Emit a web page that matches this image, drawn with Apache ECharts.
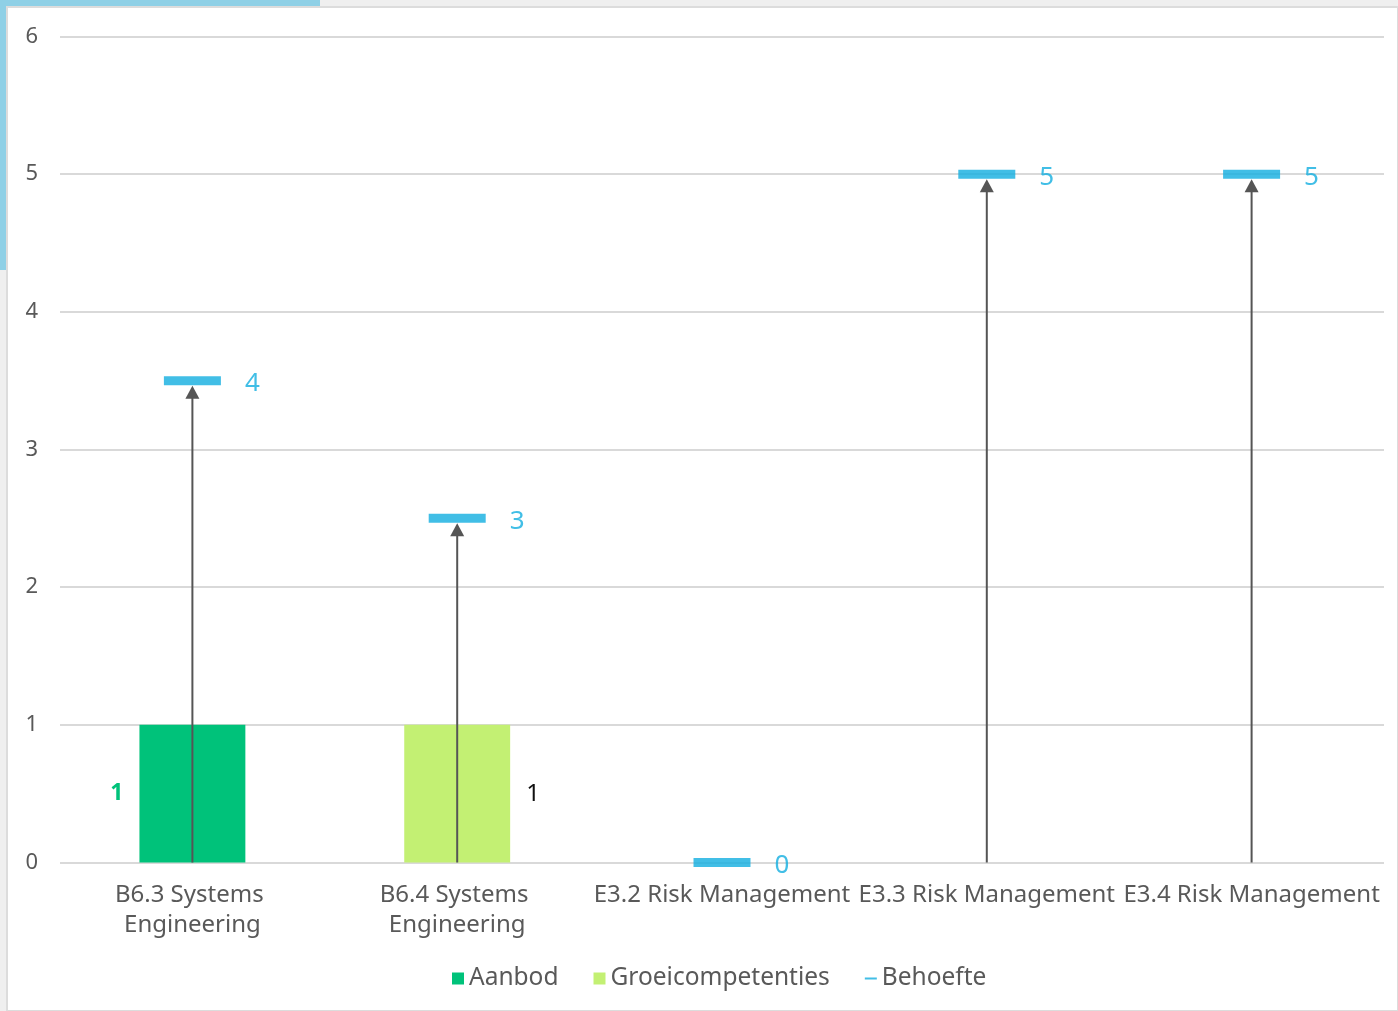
<!DOCTYPE html>
<html><head><meta charset="utf-8">
<script src="https://cdn.jsdelivr.net/npm/echarts@6/dist/echarts.min.js"></script>
<style>html,body{margin:0;padding:0;background:#efefef}#c{width:1398px;height:1011px}</style>
</head><body><div id="c"></div>
<script>
const categories = ['B6.3 Systems Engineering','B6.4 Systems Engineering','E3.2 Risk Management','E3.3 Risk Management','E3.4 Risk Management'];
const aanbod = [1, null, null, null, null];
const groei = [null, 1, null, null, null];
const behoefte = [3.5, 2.5, 0, 5, 5];
const yTicks = [0,1,2,3,4,5,6];

const FONT = '"Noto Sans", "Open Sans", sans-serif';
const chart = echarts.init(document.getElementById('c'));
chart.setOption({
  backgroundColor: 'transparent',
  animation: false,
  graphic: [
    {type:'rect', shape:{x:0,y:0,width:320,height:6}, style:{fill:'#8fd0e6'}, z:-10},
    {type:'rect', shape:{x:0,y:0,width:6,height:270}, style:{fill:'#8fd0e6'}, z:-10},
    {type:'rect', shape:{x:7,y:7,width:1391,height:1004}, style:{fill:'#ffffff', stroke:'#dcdcdc', lineWidth:2}, z:-9}
  ],
  grid: {left:60, right:14, top:36.5, bottom:148.5, containLabel:false},
  legend: {
    bottom: 15, left: 447, itemGap: 35, itemWidth: 12, itemHeight: 12,
    textStyle: {color:'#595959', fontSize:24.5, fontFamily:FONT},
    data: [
      {name:'Aanbod', icon:'rect'},
      {name:'Groeicompetenties', icon:'rect'},
      {name:'Behoefte', icon:'path://M0,5 L12,5 L12,7 L0,7 Z'}
    ]
  },
  xAxis: {
    type:'category', data: categories,
    axisLine:{show:false}, axisTick:{show:false},
    axisLabel:{interval:0, color:'#595959', fontSize:24, fontFamily:FONT, margin:18, lineHeight:30,
      width:264, overflow:'break'}
  },
  yAxis: {
    type:'value', min:0, max:6, interval:1,
    axisLabel:{color:'#595959', fontSize:22, fontFamily:FONT, margin:22,
      formatter:(v)=> yTicks.includes(v) ? String(v) : ''},
    splitLine:{lineStyle:{color:'#d9d9d9', width:2}}
  },
  series: [
    {name:'Aanbod', type:'bar', data:aanbod, barWidth:'40%', barGap:'-100%',
      itemStyle:{color:'#00c27a'},
      label:{show:true, position:'left', distance:16, color:'#00c27a', fontSize:23, fontWeight:'bold', fontFamily:FONT}},
    {name:'Groeicompetenties', type:'bar', data:groei, barWidth:'40%',
      itemStyle:{color:'#c3f073'},
      label:{show:true, position:'right', distance:16, color:'#111', fontSize:24, fontFamily:FONT}},
    {name:'Arrows', type:'custom', data: behoefte.map((v,i)=>[i,v]), z:5,
      renderItem: function(params, api){
        const v = api.value(1);
        if (!v) return {type:'group', children:[]};
        const p0 = api.coord([api.value(0), 0]);
        const p1 = api.coord([api.value(0), v]);
        const tipY = p1[1] + 5;
        return {type:'group', children:[
          {type:'line', shape:{x1:p0[0], y1:p0[1], x2:p0[0], y2:tipY+10}, style:{stroke:'#555555', lineWidth:2}},
          {type:'polygon', shape:{points:[[p0[0], tipY],[p0[0]-7, tipY+13],[p0[0]+7, tipY+13]]}, style:{fill:'#555555'}}
        ]};
      }},
    {name:'Behoefte', type:'scatter', data:behoefte, symbol:'rect', symbolSize:[57,9], z:6,
      itemStyle:{color:'#12aee0'},
      label:{show:true, position:'right', distance:24, color:'#12aee0', fontSize:26, fontFamily:FONT,
        offset:[0,3], formatter:(p)=>String(Math.round(p.value))}}
  ]
});
</script></body></html>
